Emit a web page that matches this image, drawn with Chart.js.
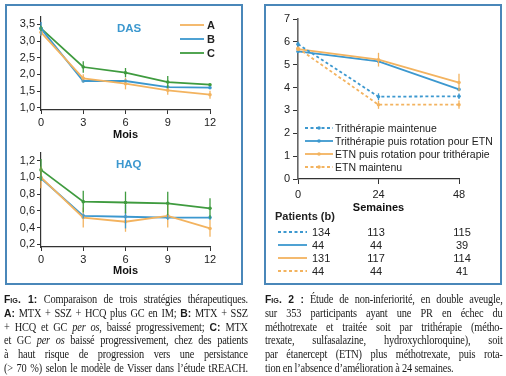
<!DOCTYPE html>
<html>
<head>
<meta charset="utf-8">
<script src="https://cdn.jsdelivr.net/npm/chart.js@4.4.0/dist/chart.umd.min.js"></script>
<style>
body { margin: 0; width: 506px; height: 376px; background: #fff; position: relative; overflow: hidden; font-family: "Liberation Sans", Arial, sans-serif; color: #222; }
.panel { position: absolute; border: 2px solid #4a87b9; box-sizing: border-box; }
canvas { position: absolute; }
.txt { position: absolute; white-space: nowrap; line-height: 1; }
.cap { position: absolute; top: 293px; font-family: "Liberation Serif", serif; font-size: 11.5px; letter-spacing: -0.2px; line-height: 13.8px; color: #1a1a1a; transform: scaleX(0.9); transform-origin: 0 0; }
.cap .ln { text-align: justify; text-align-last: justify; }
.cap .ln.last { text-align-last: left; }
.cap .fig { font-family: "Liberation Sans", sans-serif; font-weight: bold; font-variant: small-caps; letter-spacing: 0; }
.cap b { font-family: "Liberation Sans", sans-serif; letter-spacing: 0; }
</style>
</head>
<body>
<div class="panel" style="left:5px;top:4px;width:238px;height:281px"></div>
<div class="panel" style="left:264px;top:4px;width:238px;height:281px"></div>

<canvas id="das" width="240" height="142" style="left:0;top:0"></canvas>
<canvas id="haq" width="240" height="142" style="left:0;top:136px"></canvas>
<canvas id="etn" width="238" height="215" style="left:265px;top:0"></canvas>

<div id="overlay"></div>

<div class="cap" style="left:4px;width:271px">
  <div class="ln"><span class="fig">Fig. 1:</span> Comparaison de trois stratégies thérapeutiques.</div>
  <div class="ln"><b>A:</b> MTX + SSZ + HCQ plus GC en IM; <b>B:</b> MTX + SSZ</div>
  <div class="ln">+ HCQ et GC <i>per os</i>, baissé progressivement; <b>C:</b> MTX</div>
  <div class="ln">et GC <i>per os</i> baissé progressivement, chez des patients</div>
  <div class="ln">à haut risque de progression vers une persistance</div>
  <div class="ln">(&gt; 70 %) selon le modèle de Visser dans l’étude tREACH.</div>
</div>
<div class="cap" style="left:265px;width:264px">
  <div class="ln"><span class="fig">Fig. 2 :</span> Étude de non-inferiorité, en double aveugle,</div>
  <div class="ln">sur 353 participants ayant une PR en échec du</div>
  <div class="ln">méthotrexate et traitée soit par trithérapie (métho-</div>
  <div class="ln">trexate, sulfasalazine, hydroxychloroquine), soit</div>
  <div class="ln">par étanercept (ETN) plus méthotrexate, puis rota-</div>
  <div class="ln last">tion en l’absence d’amélioration à 24 semaines.</div>
</div>

<script>
// Fig. 1 data
const months = [0, 3, 6, 9, 12];
const dasA = [3.26, 1.88, 1.72, 1.52, 1.39];
const dasB = [3.37, 1.80, 1.80, 1.62, 1.60];
const dasC = [3.38, 2.22, 2.05, 1.77, 1.69];
const dasErrA = [0.1, 0.12, 0.17, 0.13, 0.12];
const dasErrB = [0.2, 0.04, 0.04, 0.04, 0.04];
const dasErrC = [0.08, 0.17, 0.14, 0.18, 0.03];
const dasTicks = [1.0, 1.5, 2.0, 2.5, 3.0, 3.5];

const haqA = [1.0, 0.52, 0.47, 0.54, 0.39];
const haqB = [0.99, 0.54, 0.53, 0.52, 0.52];
const haqC = [1.09, 0.71, 0.70, 0.69, 0.63];
const haqErrA = [0.13, 0.12, 0.12, 0.14, 0.1];
const haqErrB = [0.03, 0.03, 0.14, 0.03, 0.03];
const haqErrC = [0.13, 0.13, 0.13, 0.14, 0.12];
const haqTicks = [0.2, 0.4, 0.6, 0.8, 1.0, 1.2];

// Fig. 2 data
const weeks = [0, 24, 48];
const triMaint = [5.9, 3.6, 3.62];
const triRot = [5.58, 5.15, 3.92];
const etnRot = [5.68, 5.22, 4.22];
const etnMaint = [5.72, 3.25, 3.25];
const triMaintErr = [0.1, 0.15, 0.12];
const triRotErr = [0, 0, 0];
const etnRotErr = [0.08, 0.3, 0.38];
const etnMaintErr = [0.08, 0.18, 0.18];
const etnTicks = [0, 1, 2, 3, 4, 5, 6, 7];
const etnLabels = ['Trithérapie maintenue', 'Trithérapie  puis rotation pour ETN', 'ETN puis rotation pour trithérapie', 'ETN maintenu'];
const patients = [[134, 113, 115], [44, 44, 39], [131, 117, 114], [44, 44, 41]];

const ORANGE = '#f3b35f';
const BLUE = '#3c98cf';
const GREEN = '#3f9b3f';
const FONT = 'Liberation Sans';

// vertical error bars drawn from each dataset's "errors" array
const errorBars = {
  id: 'errorBars',
  afterDatasetsDraw(chart) {
    const { ctx, scales: { x, y } } = chart;
    chart.data.datasets.forEach((ds) => {
      if (!ds.errors) return;
      ctx.save();
      ctx.strokeStyle = ds.borderColor;
      ctx.lineWidth = 1.3;
      ds.data.forEach((p, j) => {
        const e = ds.errors[j];
        if (!e) return;
        const px = x.getPixelForValue(p.x);
        ctx.beginPath();
        ctx.moveTo(px, y.getPixelForValue(p.y - e));
        ctx.lineTo(px, y.getPixelForValue(p.y + e));
        ctx.stroke();
      });
      ctx.restore();
    });
  }
};

function points(xs, ys) {
  return xs.map((x, i) => ({ x: x, y: ys[i] }));
}

function series(xs, ys, errs, color, dashed) {
  return {
    data: points(xs, ys),
    errors: errs,
    borderColor: color,
    backgroundColor: color,
    borderWidth: 1.8,
    borderDash: dashed ? [3, 2.5] : [],
    pointRadius: 1.8,
    pointBorderWidth: 0,
    tension: 0,
    clip: false
  };
}

function axis(min, max, ticks, fmt, width, height, title) {
  return {
    type: 'linear',
    min: min,
    max: max,
    afterBuildTicks: (s) => { s.ticks = ticks.map((v) => ({ value: v })); },
    afterFit: (s) => {
      if (width) s.width = width;
      if (height) s.height = height;
    },
    grid: { drawOnChartArea: false, drawTicks: true, tickLength: 4, color: '#333' },
    border: { color: '#333', width: 1.2 },
    ticks: { color: '#222', padding: 2, font: { family: FONT, size: 11 }, callback: fmt },
    title: title ? { display: true, text: title, color: '#111', padding: 0, font: { family: FONT, size: 11, weight: 'bold' } } : { display: false }
  };
}

const comma = (v) => v.toFixed(1).replace('.', ',');

function fig1(id, a, b, c, ea, eb, ec, min, max, ticks, xHeight) {
  return new Chart(document.getElementById(id), {
    type: 'line',
    data: {
      datasets: [
        series(months, a, ea, ORANGE, false),
        series(months, b, eb, BLUE, false),
        series(months, c, ec, GREEN, false)
      ]
    },
    options: {
      responsive: false,
      animation: false,
      devicePixelRatio: 1,
      layout: { padding: { left: 0, top: 17, right: 30, bottom: 0 } },
      plugins: { legend: { display: false }, tooltip: { enabled: false } },
      scales: {
        x: axis(0, 12, months, (v) => v, null, xHeight, 'Mois'),
        y: axis(min, max, ticks, comma, 41, null, null)
      }
    },
    plugins: [errorBars]
  });
}

fig1('das', dasA, dasB, dasC, dasErrA, dasErrB, dasErrC, 0.931, 3.72, dasTicks, 32);
fig1('haq', haqA, haqB, haqC, haqErrA, haqErrB, haqErrC, 0.168, 1.292, haqTicks, 31);

const etnX = axis(0, 48, weeks, (v) => v, null, 36, 'Semaines');
etnX.ticks.padding = 4;
etnX.grid.tickLength = 5;
const etnY = axis(0, 7, etnTicks, (v) => v, 33, null, null);
etnY.grid.tickLength = 5;
etnY.ticks.padding = 3;
etnY.border = { color: '#666', width: 1.6 };

new Chart(document.getElementById('etn'), {
  type: 'line',
  data: {
    datasets: [
      series(weeks, etnMaint, etnMaintErr, ORANGE, true),
      series(weeks, triMaint, triMaintErr, BLUE, true),
      series(weeks, etnRot, etnRotErr, ORANGE, false),
      series(weeks, triRot, triRotErr, BLUE, false)
    ]
  },
  options: {
    responsive: false,
    animation: false,
    devicePixelRatio: 1,
    layout: { padding: { left: 0, top: 19, right: 44, bottom: 0 } },
    plugins: { legend: { display: false }, tooltip: { enabled: false } },
    scales: { x: etnX, y: etnY }
  },
  plugins: [errorBars]
});

// legends, titles and patient table as html text
const overlay = document.getElementById('overlay');
function text(str, left, cy, style) {
  const d = document.createElement('div');
  d.className = 'txt';
  d.textContent = str;
  d.style.cssText = 'left:' + left + 'px;top:' + cy + 'px;transform:translateY(-50%);' + (style || '');
  overlay.appendChild(d);
  return d;
}
function sample(color, dashed, dot, left, cy, w) {
  const svg = '<svg width="' + w + '" height="6" style="position:absolute;left:' + left + 'px;top:' + (cy - 3) + 'px">' +
    '<line x1="0" y1="3" x2="' + w + '" y2="3" stroke="' + color + '" stroke-width="1.8"' + (dashed ? ' stroke-dasharray="3 2.5"' : '') + '/>' +
    (dot ? '<circle cx="' + w / 2 + '" cy="3" r="1.8" fill="' + color + '"/>' : '') + '</svg>';
  overlay.insertAdjacentHTML('beforeend', svg);
}

text('DAS', 117, 29, 'font-weight:bold;font-size:11.5px;color:' + BLUE);
text('HAQ', 116, 165, 'font-weight:bold;font-size:11.5px;color:' + BLUE);
['A', 'B', 'C'].forEach((l, i) => {
  const cy = 25 + i * 14;
  sample([ORANGE, BLUE, GREEN][i], false, false, 180, cy, 24);
  text(l, 207, cy, 'font-weight:bold;font-size:11px');
});

const etnColors = [BLUE, BLUE, ORANGE, ORANGE];
const etnDashed = [true, false, false, true];
etnLabels.forEach((l, i) => {
  const cy = 128 + i * 13;
  sample(etnColors[i], etnDashed[i], true, 305, cy, 28);
  text(l, 335, cy, 'font-size:10.5px');
});

text('Patients (b)', 275, 216, 'font-weight:bold;font-size:11px');
patients.forEach((row, i) => {
  const cy = [232, 245, 258, 271][i];
  sample(etnColors[i], etnDashed[i], false, 278, cy, 29);
  text(String(row[0]), 312, cy, 'font-size:11px');
  text(String(row[1]), 376, cy, 'font-size:11px;transform:translate(-50%,-50%)');
  text(String(row[2]), 462, cy, 'font-size:11px;transform:translate(-50%,-50%)');
});
</script>
</body>
</html>
